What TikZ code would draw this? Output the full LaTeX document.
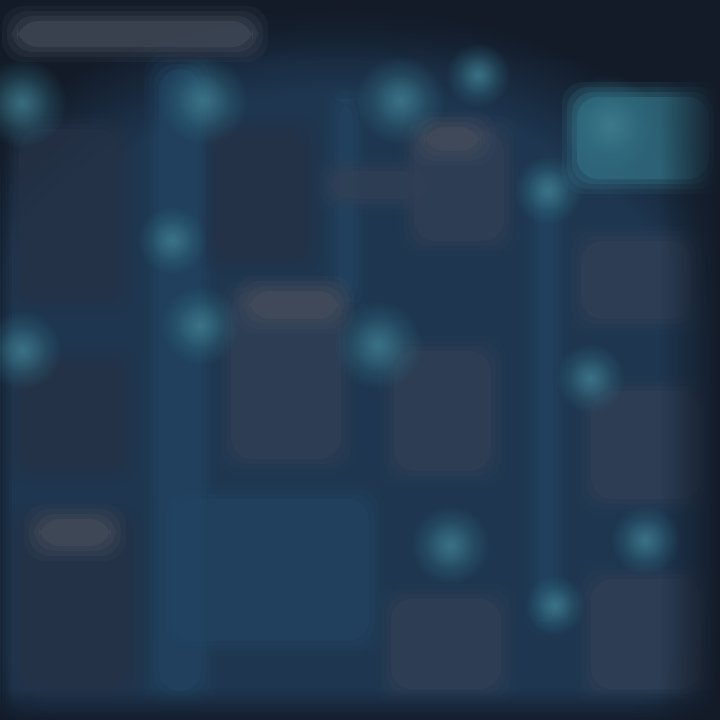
\documentclass[tikz,border=0pt]{standalone}
\usetikzlibrary{fadings}
\definecolor{bgdark}{RGB}{19,27,40}
\definecolor{bgmid}{RGB}{30,54,80}
\definecolor{boxgray}{RGB}{50,64,86}
\definecolor{boxdim}{RGB}{38,50,70}
\definecolor{glow}{RGB}{52,116,136}
\definecolor{panel}{RGB}{34,68,98}
\definecolor{titlegray}{RGB}{70,78,92}
\tikzfading[name=softglow, inner color=transparent!0, outer color=transparent!100]
\newcommand\softbox[5]{%
  \foreach \e/\o in {16/0.15,11/0.2,6/0.3,1/0.5}{%
    \fill[#5,opacity=\o,rounded corners=6] (#1-\e,#2-\e) rectangle (#3+\e,#4+\e);}}
\newcommand\glowdot[3]{%
  \fill[glow,opacity=0.8,path fading=softglow] (#1,#2) circle (#3*2.5);
  \fill[glow!80!white,opacity=0.25,path fading=softglow] (#1,#2) circle (#3*1.5);}
\begin{document}
\begin{tikzpicture}[x=0.1mm,y=-0.1mm]
\useasboundingbox (0,0) rectangle (720,720);
\fill[bgdark] (0,0) rectangle (720,720);
% lighter central field
\fill[bgmid,path fading=circle with fuzzy edge 20 percent] (-150,0) rectangle (830,920);
\fill[bgmid,opacity=0.5,path fading=circle with fuzzy edge 15 percent] (100,80) rectangle (640,700);
% vertical blue bands / connectors
\softbox{160}{70}{200}{690}{panel}
\softbox{340}{100}{352}{300}{panel}
\softbox{540}{180}{552}{620}{panel}
\softbox{330}{172}{420}{198}{boxgray}
% column 1
\softbox{20}{130}{118}{298}{boxdim}
\softbox{22}{362}{122}{468}{boxdim}
\softbox{22}{520}{128}{688}{boxdim}
\softbox{40}{520}{110}{545}{titlegray}
% column 2
\softbox{215}{132}{305}{258}{boxdim}
\softbox{232}{292}{340}{458}{boxgray}
\softbox{250}{292}{338}{318}{titlegray}
\softbox{172}{500}{368}{640}{panel}
% column 3
\softbox{415}{132}{503}{240}{boxgray}
\softbox{425}{128}{480}{150}{titlegray}
\softbox{395}{352}{490}{470}{boxgray}
\softbox{392}{600}{500}{688}{boxgray}
% column 4
\softbox{578}{98}{708}{178}{glow}
\softbox{582}{242}{690}{318}{boxgray}
\softbox{592}{392}{700}{498}{boxgray}
\softbox{592}{580}{700}{688}{boxgray}
% dark outer edges
\fill[bgdark,path fading=west] (660,0) rectangle (720,720);
\foreach \i in {0,...,19}{%
  \pgfmathsetmacro\op{0.85*(1-\i/20)}
  \fill[bgdark,opacity=\op] (0,\i*3) rectangle (720,\i*3+3);
  \fill[bgdark,opacity=\op] (0,720-\i*1.5-1.5) rectangle (720,720-\i*1.5);
  \fill[bgdark,opacity=\op*0.5] (\i*0.6,0) rectangle (\i*0.6+0.6,720);}
% glowing dots
\glowdot{22}{103}{18}
\glowdot{203}{100}{18}
\glowdot{400}{100}{18}
\glowdot{478}{75}{13}
\glowdot{548}{190}{14}
\glowdot{172}{240}{14}
\glowdot{200}{325}{16}
\glowdot{22}{350}{16}
\glowdot{378}{345}{18}
\glowdot{590}{378}{14}
\glowdot{645}{540}{14}
\glowdot{450}{545}{16}
\glowdot{555}{605}{12}
\glowdot{610}{125}{20}
% title bar
\softbox{18}{22}{252}{46}{titlegray}
\end{tikzpicture}
\end{document}
